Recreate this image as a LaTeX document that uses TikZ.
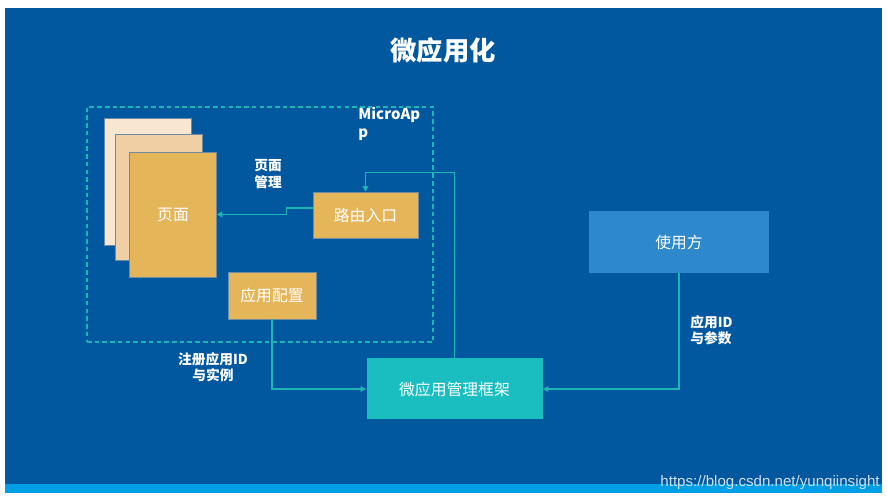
\documentclass[tikz,border=0pt]{standalone}
\usepackage{fontspec}
\setmainfont{Noto Sans CJK SC}
\newfontfamily\urlfont{Liberation Sans}
\usepackage{xcolor}
\usepackage{tikz}
\usetikzlibrary{arrows.meta,positioning}
\definecolor{slideblue}{RGB}{2,88,158}
\definecolor{barblue}{RGB}{0,158,228}
\definecolor{boxgold}{RGB}{229,181,90}
\definecolor{pagelight}{RGB}{248,230,208}
\definecolor{pagemid}{RGB}{240,207,165}
\definecolor{boxteal}{RGB}{26,190,192}
\definecolor{boxuser}{RGB}{46,136,204}
\definecolor{linkteal}{RGB}{28,182,184}
\definecolor{edgegray}{RGB}{110,140,165}

\begin{document}
\begin{tikzpicture}[
        x=0.02cm,y=-0.02cm,
        font=\fontsize{9}{11}\selectfont,
        sheet/.style={draw=edgegray,line width=0.4pt,minimum width=87*0.02cm,minimum height=125*0.02cm,inner sep=0pt},
        goldbox/.style={draw=edgegray,line width=0.3pt,fill=boxgold,text=white,minimum height=46*0.02cm,inner sep=0pt},
        bigbox/.style={fill=#1,text=white,minimum width=176*0.02cm,minimum height=61*0.02cm,inner sep=0pt},
        note/.style={text=white,font=\fontsize{7.8}{9.3}\selectfont\bfseries,inner sep=0pt},
        link/.style={-{Triangle[length=1.1mm,width=1.1mm]},draw=linkteal,line width=0.7pt},
        areabox/.style={draw=linkteal,line width=0.8pt,dash pattern=on 2.6pt off 1.8pt,minimum width=346*0.02cm,minimum height=235*0.02cm,inner sep=0pt}
    ]

        \useasboundingbox (0,0) rectangle (887,499);
        \fill[white] (0,0) rectangle (887,499);
        \fill[slideblue] (5,8) rectangle (882,484);
        \fill[barblue] (5,484) rectangle (882,493);

        \node[text=white,font=\fontsize{15}{18}\selectfont\bfseries] (title) at (443,50) {微应用化};

        \node[areabox] (microapp) at (260,224.5) {};
        \node[note,font=\fontsize{8.5}{10.3}\selectfont\bfseries,align=left,anchor=north west] (microlbl) at (358,107) {MicroAp\\p};

        \node[sheet,fill=pagelight,minimum height=127*0.02cm] (pageback) at (147.5,181.5) {};
        \node[sheet,fill=pagemid,minimum height=126*0.02cm] (pagemid) at (158.5,197) {};
        \node[sheet,fill=boxgold,text=white] (page) at (173,214.5) {页面};
        \node[note,align=center] (pagelbl) at (268,174) {页面\\管理};

        \node[goldbox,minimum width=105*0.02cm] (route) at (365.5,215) {路由入口};
        \node[goldbox,minimum width=88*0.02cm,minimum height=47*0.02cm] (config) at (272,295.5) {应用配置};

        \node[bigbox=boxteal] (framework) at (454.5,389) {微应用管理框架};
        \node[bigbox=boxuser,minimum width=180*0.02cm,minimum height=62*0.02cm] (user) at (679,242) {使用方};

        \node[note,align=center] (reglbl) at (213,367) {注册应用ID\\与实例};
        \node[note,align=left,anchor=west] (paramlbl) at (690,330) {应用ID\\与参数};

        \draw[link] ([yshift=4pt]route.west) -- ++(-26,0) |- (page.east);
        \draw[link] (config.south) |- (framework.west);
        \draw[link] (framework.north) -- ++(0,-186) -| (route.north);
        \draw[link] (user.south) |- (framework.east);

        \node[text=white!80!slideblue,font=\urlfont\fontsize{8.6}{10}\selectfont,anchor=south east,inner sep=0pt] (mark) at (880,490) {https://blog.csdn.net/yunqiinsight};
    \end{tikzpicture}
\end{document}
